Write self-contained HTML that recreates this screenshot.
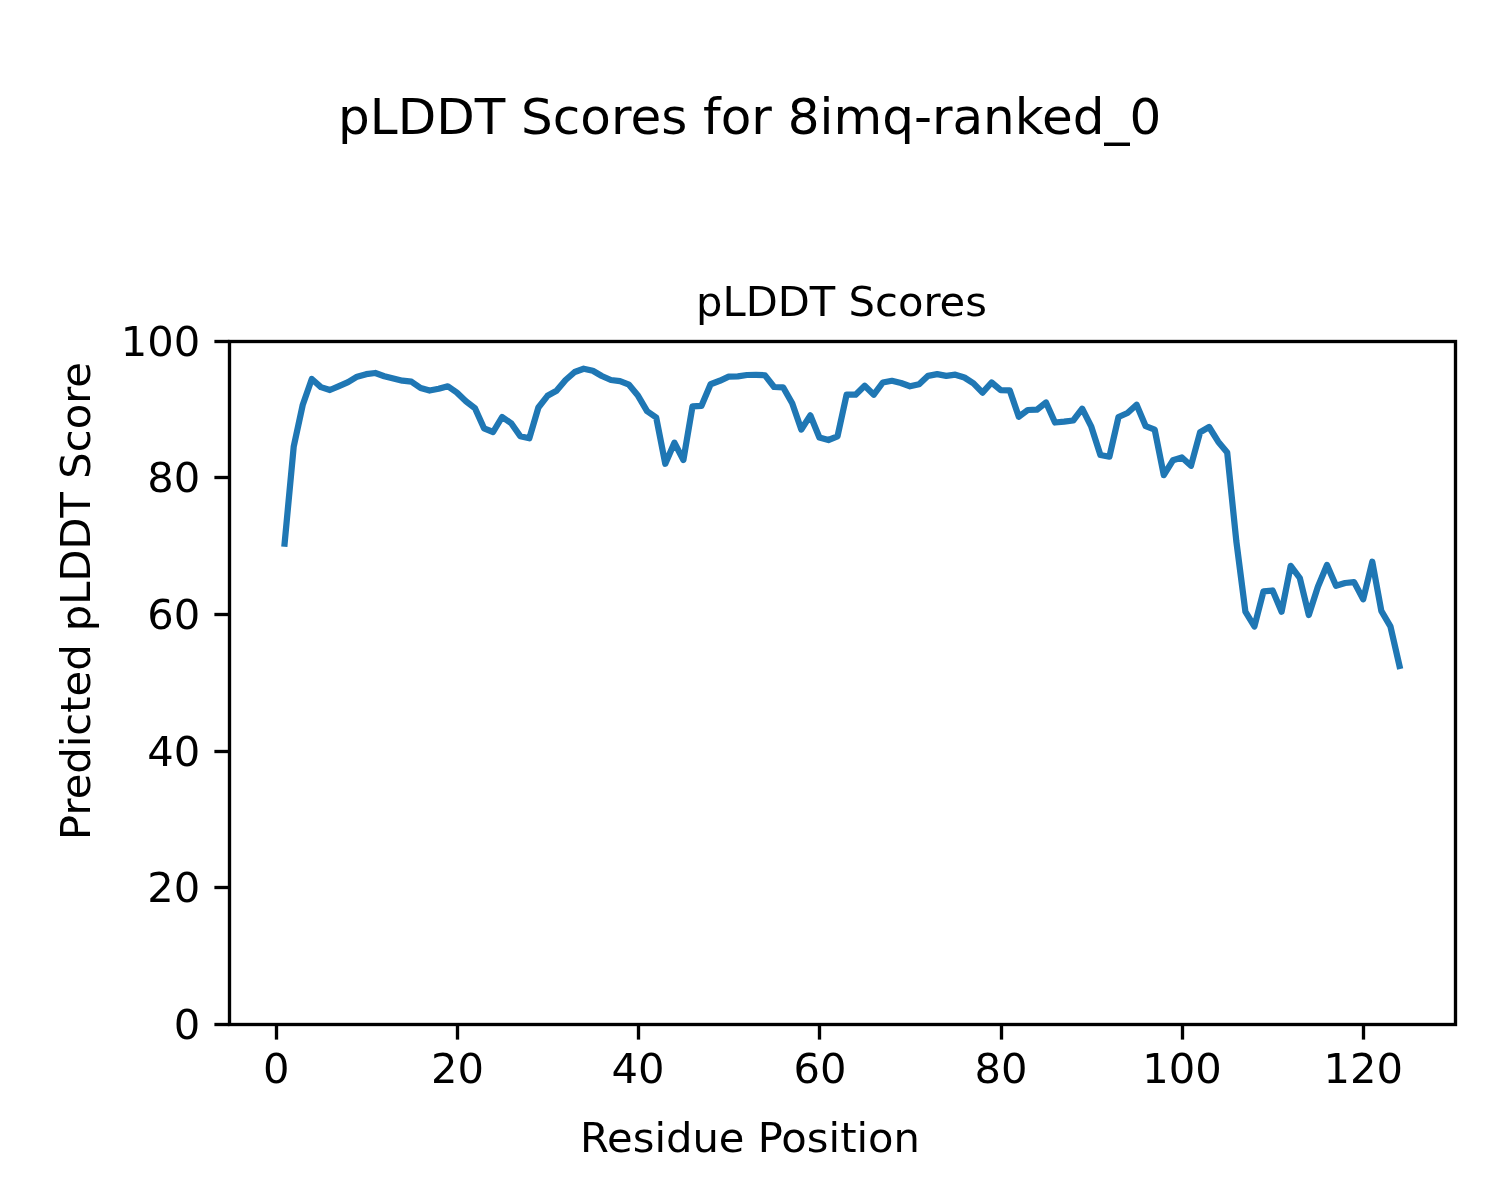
<!DOCTYPE html>
<html lang="en">
<head>
<meta charset="utf-8">
<title>pLDDT Scores for 8imq-ranked_0</title>
<style>
html,body{margin:0;padding:0;background:#fff;}
body{width:1500px;height:1200px;overflow:hidden;}
svg{display:block;}
text{font-family:"DejaVu Sans","Liberation Sans",sans-serif;fill:#000;}
.t10{font-size:41.667px;}
.t12{font-size:50px;}
.sp{stroke:#000;stroke-width:3.333;fill:none;stroke-linecap:square;}
.tk{stroke:#000;stroke-width:3.333;fill:none;stroke-linecap:butt;}
</style>
</head>
<body>
<svg width="1500" height="1200" viewBox="0 0 1500 1200">
<rect x="0" y="0" width="1500" height="1200" fill="#ffffff"/>
<text class="t12" x="749.7" y="134" text-anchor="middle">pLDDT Scores for 8imq-ranked_0</text>
<text class="t10" x="841.5" y="316.3" text-anchor="middle">pLDDT Scores</text>
<polyline points="284.6,543.6 293.7,446.7 302.7,405.0 311.8,379.0 320.9,387.1 329.9,390.0 339.0,386.1 348.1,382.2 357.1,376.7 366.2,374.2 375.3,373.0 384.3,376.2 393.4,378.5 402.4,380.7 411.5,381.7 420.6,388.0 429.6,390.5 438.7,388.8 447.8,386.3 456.8,392.5 465.9,401.3 475.0,408.3 484.0,428.3 493.1,432.0 502.1,417.0 511.2,423.3 520.3,436.3 529.3,438.3 538.4,407.5 547.5,395.8 556.5,390.8 565.6,380.0 574.7,372.0 583.7,368.7 592.8,370.8 601.8,376.0 610.9,380.0 620.0,381.2 629.0,384.7 638.1,395.8 647.2,411.3 656.2,417.5 665.3,463.8 674.4,442.7 683.4,460.0 692.5,406.3 701.5,405.8 710.6,384.2 719.7,380.8 728.7,376.7 737.8,376.3 746.9,375.0 755.9,374.8 765.0,375.3 774.1,387.0 783.1,387.3 792.2,403.3 801.3,429.5 810.3,415.3 819.4,437.5 828.4,440.0 837.5,436.3 846.6,394.7 855.6,394.7 864.7,385.8 873.8,394.7 882.8,382.5 891.9,380.8 901.0,383.0 910.0,386.3 919.1,384.2 928.1,375.8 937.2,374.2 946.3,375.8 955.3,374.7 964.4,377.5 973.5,383.3 982.5,392.7 991.6,382.5 1000.7,390.2 1009.7,390.3 1018.8,416.7 1027.8,410.0 1036.9,409.7 1046.0,402.5 1055.0,422.5 1064.1,421.7 1073.2,420.5 1082.2,408.7 1091.3,426.7 1100.4,455.0 1109.4,456.7 1118.5,417.0 1127.5,413.0 1136.6,404.7 1145.7,426.2 1154.7,429.7 1163.8,475.2 1172.9,460.3 1181.9,457.5 1191.0,465.8 1200.1,432.2 1209.1,427.0 1218.2,441.7 1227.2,452.5 1236.3,541.0 1245.4,611.7 1254.4,626.5 1263.5,591.3 1272.6,590.5 1281.6,611.7 1290.7,565.8 1299.8,578.0 1308.8,615.0 1317.9,586.7 1327.0,565.0 1336.0,585.8 1345.1,583.0 1354.1,582.1 1363.2,599.2 1372.3,561.7 1381.3,610.8 1390.4,626.3 1399.5,665.9" fill="none" stroke="#1f77b4" stroke-width="6.25" stroke-linejoin="round" stroke-linecap="square"/>
<g class="tk">
<line x1="276.5" y1="1024.5" x2="276.5" y2="1039.6"/>
<line x1="457.5" y1="1024.5" x2="457.5" y2="1039.6"/>
<line x1="638.5" y1="1024.5" x2="638.5" y2="1039.6"/>
<line x1="819.5" y1="1024.5" x2="819.5" y2="1039.6"/>
<line x1="1001.5" y1="1024.5" x2="1001.5" y2="1039.6"/>
<line x1="1182.5" y1="1024.5" x2="1182.5" y2="1039.6"/>
<line x1="1363.5" y1="1024.5" x2="1363.5" y2="1039.6"/>
<line x1="214.4" y1="1024.5" x2="229.5" y2="1024.5"/>
<line x1="214.4" y1="887.5" x2="229.5" y2="887.5"/>
<line x1="214.4" y1="751.5" x2="229.5" y2="751.5"/>
<line x1="214.4" y1="614.5" x2="229.5" y2="614.5"/>
<line x1="214.4" y1="477.5" x2="229.5" y2="477.5"/>
<line x1="214.4" y1="341.5" x2="229.5" y2="341.5"/>
</g>
<rect class="sp" x="229.5" y="341.5" width="1226.0" height="683.0"/>
<g class="t10">
<text x="276.3" y="1083.3" text-anchor="middle">0</text>
<text x="457.4" y="1083.3" text-anchor="middle">20</text>
<text x="638.1" y="1083.3" text-anchor="middle">40</text>
<text x="820.0" y="1083.3" text-anchor="middle">60</text>
<text x="1000.9" y="1083.3" text-anchor="middle">80</text>
<text x="1182.0" y="1083.3" text-anchor="middle">100</text>
<text x="1363.3" y="1083.3" text-anchor="middle">120</text>
<text x="200.3" y="1039.0" text-anchor="end">0</text>
<text x="200.3" y="902.0" text-anchor="end">20</text>
<text x="200.3" y="766.0" text-anchor="end">40</text>
<text x="200.3" y="629.0" text-anchor="end">60</text>
<text x="200.3" y="492.0" text-anchor="end">80</text>
<text x="200.3" y="356.0" text-anchor="end">100</text>
</g>
<text class="t10" x="750" y="1152" text-anchor="middle">Residue Position</text>
<text class="t10" transform="translate(90,601) rotate(-90)" text-anchor="middle">Predicted pLDDT Score</text>
</svg>
</body>
</html>
